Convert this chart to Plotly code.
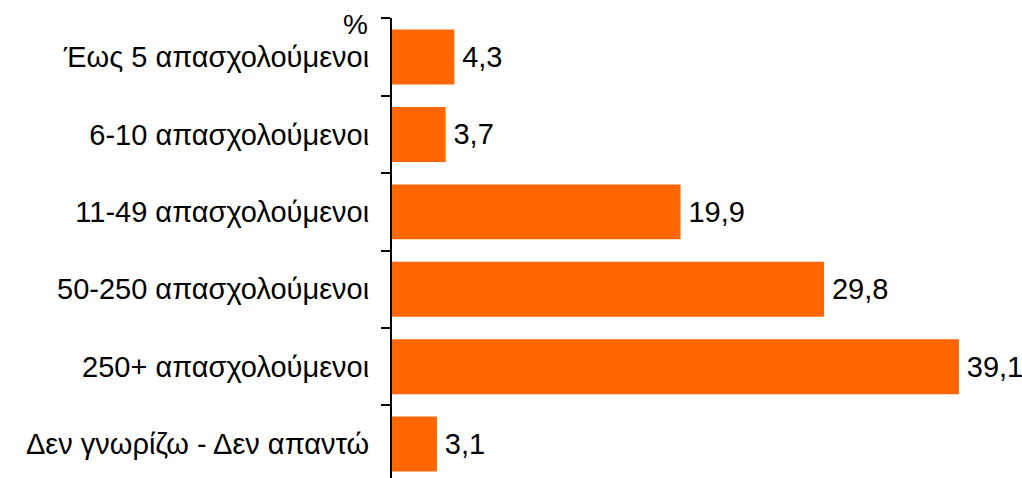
import plotly.graph_objects as go

categories = ["Έως 5 απασχολούμενοι", "6-10 απασχολούμενοι", "11-49 απασχολούμενοι",
              "50-250 απασχολούμενοι", "250+ απασχολούμενοι", "Δεν γνωρίζω - Δεν απαντώ"]
values = [4.3, 3.7, 19.9, 29.8, 39.1, 3.1]
value_labels = ["4,3", "3,7", "19,9", "29,8", "39,1", "3,1"]
unit_label = "%"

FONT = "Liberation Sans, Arial, sans-serif"
W, H = 1022, 478
L, T = 392, 18
PW, PH = W - L, H - T

fig = go.Figure(go.Bar(
    y=categories, x=values, orientation="h",
    marker=dict(color="#FF6600", line=dict(width=0)),
    text=["\u2006" + s for s in value_labels], textposition="outside", cliponaxis=False,
    textfont=dict(family=FONT, size=29, color="#000000"),
    width=0.71,
))

fig.update_layout(
    width=W, height=H,
    margin=dict(l=L, r=0, t=T, b=0),
    paper_bgcolor="white", plot_bgcolor="white",
    showlegend=False,
    font=dict(family=FONT, size=29, color="#000000"),
    xaxis=dict(range=[0, PW / 14.5], visible=False, fixedrange=True),
    yaxis=dict(
        type="category", categoryorder="array", categoryarray=categories,
        range=[-0.505 + PH / 77.4, -0.505],
        showline=True, linecolor="#000000", linewidth=2,
        ticks="outside", ticklen=9, tickcolor="#000000", tickwidth=2,
        tickson="boundaries", showgrid=False,
        tickfont=dict(family=FONT, size=29, color="#000000"),
        ticklabelstandoff=15,
    ),
    annotations=[dict(
        text=unit_label, xref="paper", yref="paper",
        x=(370 - L) / PW, y=1 + (T - 24) / PH,
        xanchor="right", yanchor="middle", showarrow=False,
        font=dict(family=FONT, size=28, color="#000000"),
    )],
)

fig.write_html(
    "out.html",
    config={"displayModeBar": False},
    post_script="document.body.style.margin='0';document.body.style.overflow='hidden';",
)
